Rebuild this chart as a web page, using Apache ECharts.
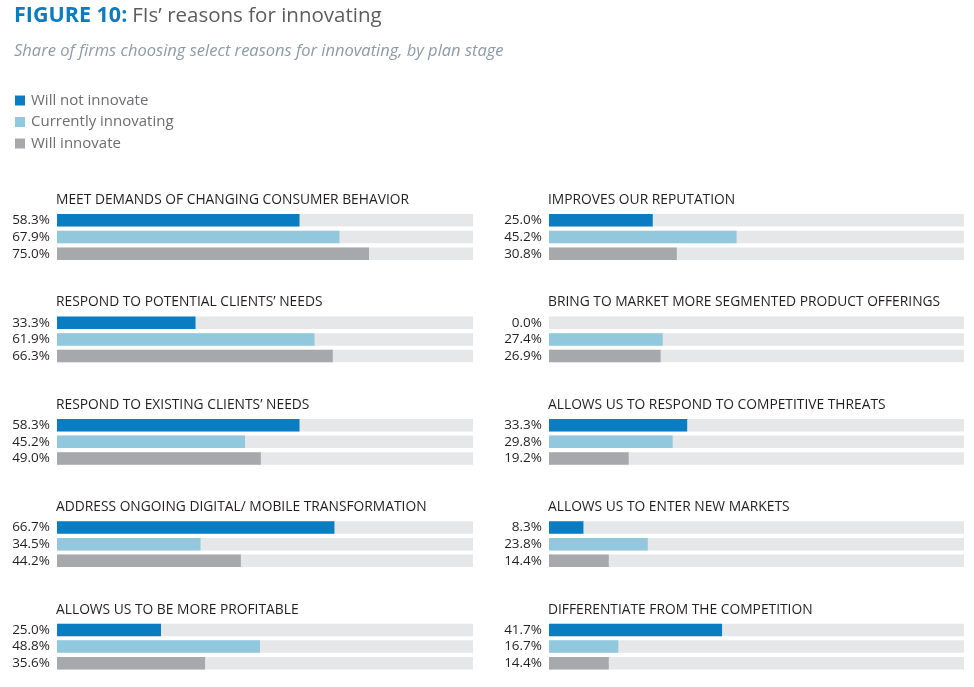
<!DOCTYPE html>
<html>
<head>
<meta charset="utf-8">
<script src="https://cdn.jsdelivr.net/npm/echarts@6/dist/echarts.min.js"></script>
<style>html,body{margin:0;padding:0;background:#fff;}#c{width:974px;height:687px;}</style>
</head>
<body>
<div id="c"></div>
<script>
const categories = [
  "MEET DEMANDS OF CHANGING CONSUMER BEHAVIOR",
  "RESPOND TO POTENTIAL CLIENTS\u2019 NEEDS",
  "RESPOND TO EXISTING CLIENTS\u2019 NEEDS",
  "ADDRESS ONGOING DIGITAL/ MOBILE TRANSFORMATION",
  "ALLOWS US TO BE MORE PROFITABLE",
  "IMPROVES OUR REPUTATION",
  "BRING TO MARKET MORE SEGMENTED PRODUCT OFFERINGS",
  "ALLOWS US TO RESPOND TO COMPETITIVE THREATS",
  "ALLOWS US TO ENTER NEW MARKETS",
  "DIFFERENTIATE FROM THE COMPETITION"
];
const seriesNames = ["Will not innovate", "Currently innovating", "Will innovate"];
const willNotInnovate = [58.3, 33.3, 58.3, 66.7, 25.0, 25.0, 0.0, 33.3, 8.3, 41.7];
const currentlyInnovating = [67.9, 61.9, 45.2, 34.5, 48.8, 45.2, 27.4, 29.8, 23.8, 16.7];
const willInnovate = [75.0, 66.3, 49.0, 44.2, 35.6, 30.8, 26.9, 19.2, 14.4, 14.4];
const trackMax = 100;

const values = [willNotInnovate, currentlyInnovating, willInnovate];
const colors = ["#0a7cc1", "#92c8de", "#a7a8ab"];
const trackColor = "#e6e7e8";
const FONT = "Open Sans";

const grids = [], xAxes = [], yAxes = [], series = [], titles = [];
titles.push({
  left: 14, top: 5, padding: 0,
  text: "{b|FIGURE 10:} {n|FIs\u2019 reasons for innovating}",
  textStyle: {
    rich: {
      b: {fontFamily: FONT, fontWeight: "bold", fontSize: 21.5, color: "#0a7cc1"},
      n: {fontFamily: FONT, fontWeight: "normal", fontSize: 20.5, color: "#5b5c5e"}
    }
  },
  subtext: "Share of firms choosing select reasons for innovating, by plan stage",
  subtextStyle: {fontFamily: FONT, fontStyle: "italic", fontSize: 16.5, color: "#8d9ba4"},
  itemGap: 16
});

categories.forEach((cat, i) => {
  const col = i < 5 ? 0 : 1;
  const row = i % 5;
  const left = col === 0 ? 57 : 549;
  const width = col === 0 ? 416 : 415;
  const top = 212 + row * 102.4;
  grids.push({left: left, top: top, width: width, height: 50, containLabel: false});
  xAxes.push({type: "value", gridIndex: i, min: 0, max: trackMax, show: false});
  yAxes.push({type: "category", gridIndex: i, data: ["a", "b", "c"], inverse: true, show: false});
  titles.push({
    left: left - 1, top: top - 19, padding: 0, text: cat,
    textStyle: {fontFamily: FONT, fontWeight: "normal", fontSize: 13.8, color: "#231f20"}
  });
  series.push({
    type: "bar", name: "track", xAxisIndex: i, yAxisIndex: i, silent: true,
    barWidth: 12.5, barGap: "-100%", z: 1,
    itemStyle: {color: trackColor},
    data: [trackMax, trackMax, trackMax]
  });
  values.forEach((arr, s) => {
    const d = ["-", "-", "-"];
    d[s] = arr[i];
    series.push({
      type: "bar", name: seriesNames[s], xAxisIndex: i, yAxisIndex: i,
      barWidth: 12.5, barGap: "-100%", z: 2,
      itemStyle: {color: colors[s]},
      label: {
        show: true, position: "left", distance: 7,
        fontFamily: FONT, fontSize: 13.5, color: "#231f20",
        formatter: p => Number(p.value).toFixed(1) + "%"
      },
      data: d
    });
  });
});

const chart = echarts.init(document.getElementById("c"), null, {renderer: "canvas"});
chart.setOption({
  animation: false,
  backgroundColor: "#ffffff",
  title: titles,
  legend: {
    data: seriesNames,
    orient: "vertical", left: 15, top: 93, padding: 0,
    icon: "rect", itemWidth: 10, itemHeight: 10, itemGap: 6.5,
    textStyle: {fontFamily: FONT, fontSize: 15, color: "#6d6e71", padding: [0, 0, 0, 1]},
    selectedMode: false
  },
  grid: grids,
  xAxis: xAxes,
  yAxis: yAxes,
  series: series
});
</script>
</body>
</html>
